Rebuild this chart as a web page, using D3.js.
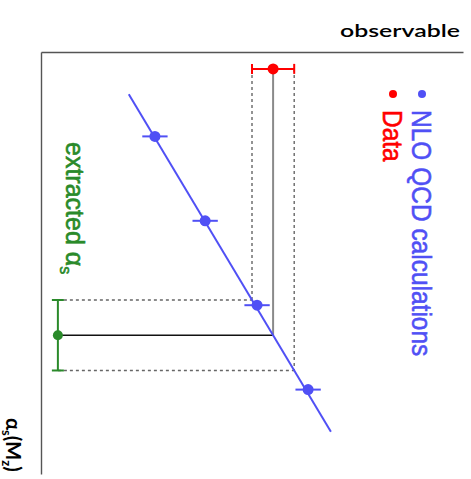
<!DOCTYPE html>
<html>
<head>
<meta charset="utf-8">
<script src="https://cdn.jsdelivr.net/npm/d3@7"></script>
<style>
  html, body { margin: 0; padding: 0; background: #fff; }
  svg { display: block; }
</style>
</head>
<body>
<svg id="chart" width="471" height="479"></svg>
<script>
// NLO QCD predictions of the observable for several alpha_s(M_Z) values
const nloAlpha = [0.112, 0.116, 0.120, 0.124];
const nloObs = [27.0, 38.9, 51.2, 63.3];
const nloErr = [3.0, 3.0, 3.0, 3.0];

// straight-line parametrisation through the predictions
const fitAlpha = [0.110, 0.126];
const fitObs = [20.8, 68.7];

// measured value of the observable
const dataObs = [55.0];
const dataErr = [5.0];
const dataAlphaPos = 0.1088;     // where the measurement is drawn along the alpha_s axis
const extractedObsPos = 4.0;     // where the extracted alpha_s is drawn along the observable axis

const alphaDomain = [0.108, 0.128];
const obsDomain = [0, 100];

const legendLabels = ["NLO QCD calculations", "Data"];
const legendColors = ["#5050f5", "#ff0000"];
const blue = "#5050f5", red = "#ff0000", green = "#2a8a2a";

const svg = d3.select("#chart");

// observable runs left→right, alpha_s runs top→bottom
const x = d3.scaleLinear().domain(obsDomain).range([41, 463]);
const y = d3.scaleLinear().domain(alphaDomain).range([52, 474]);

// axes without ticks
svg.append("g").attr("transform", "translate(0,52)")
  .call(d3.axisTop(x).tickValues([]).tickSizeOuter(0))
  .select(".domain").attr("stroke", "#555").attr("stroke-width", 1.4);
svg.append("g").attr("transform", "translate(41,0)")
  .call(d3.axisLeft(y).tickValues([]).tickSizeOuter(0))
  .select(".domain").attr("stroke", "#555").attr("stroke-width", 1.4);

// axis titles
svg.append("text")
  .attr("x", 340).attr("y", 37)
  .attr("font-family", "Lato, 'DejaVu Sans', sans-serif")
  .attr("font-weight", 600).attr("font-size", 18)
  .attr("textLength", 120).attr("lengthAdjust", "spacingAndGlyphs")
  .attr("fill", "#000").text("observable");

const xt = svg.append("text")
  .attr("transform", "translate(6,418) rotate(90)")
  .attr("font-family", "Lato, 'DejaVu Sans', sans-serif")
  .attr("font-weight", 700).attr("font-size", 20).attr("fill", "#000");
xt.append("tspan").text("α");
xt.append("tspan").attr("font-size", 13).attr("dy", 4).text("s");
xt.append("tspan").attr("dy", -4).text("(M");
xt.append("tspan").attr("font-size", 13).attr("dy", 4).text("z");
xt.append("tspan").attr("dy", -4).text(")");

// fit line mapping alpha_s to observable
const fitAlphaAt = o => fitAlpha[0] + (o - fitObs[0]) * (fitAlpha[1] - fitAlpha[0]) / (fitObs[1] - fitObs[0]);

// extracted alpha_s and its band
const dObs = dataObs[0], dErr = dataErr[0];
const aCentral = fitAlphaAt(dObs);
const aLow = fitAlphaAt(dObs - dErr);
const aHigh = fitAlphaAt(dObs + dErr);

// projection lines
const dash = "3,3";
const g = svg.append("g");
// vertical: from data down to the fit line
g.append("line")
  .attr("x1", x(dObs)).attr("x2", x(dObs))
  .attr("y1", y(dataAlphaPos)).attr("y2", y(aCentral))
  .attr("stroke", "#8a8a8a").attr("stroke-width", 2);
[[dObs - dErr, aLow], [dObs + dErr, aHigh]].forEach(([o, a]) => {
  g.append("line")
    .attr("x1", x(o)).attr("x2", x(o))
    .attr("y1", y(dataAlphaPos)).attr("y2", y(a))
    .attr("stroke", "#666").attr("stroke-width", 1.4).attr("stroke-dasharray", dash);
  g.append("line")
    .attr("x1", x(extractedObsPos)).attr("x2", x(o))
    .attr("y1", y(a)).attr("y2", y(a))
    .attr("stroke", "#666").attr("stroke-width", 1.4).attr("stroke-dasharray", dash);
});
// horizontal: from fit line across to the alpha_s axis
g.append("line")
  .attr("x1", x(extractedObsPos)).attr("x2", x(dObs))
  .attr("y1", y(aCentral)).attr("y2", y(aCentral))
  .attr("stroke", "#111").attr("stroke-width", 1.4);

// fit line
svg.append("line")
  .attr("x1", x(fitObs[0])).attr("y1", y(fitAlpha[0]))
  .attr("x2", x(fitObs[1])).attr("y2", y(fitAlpha[1]))
  .attr("stroke", blue).attr("stroke-width", 2);

// NLO points with error bars
const nlo = nloAlpha.map((a, i) => ({ a, o: nloObs[i], e: nloErr[i] }));
const pts = svg.append("g");
pts.selectAll("line.err").data(nlo).join("line")
  .attr("class", "err")
  .attr("x1", d => x(d.o - d.e)).attr("x2", d => x(d.o + d.e))
  .attr("y1", d => y(d.a)).attr("y2", d => y(d.a))
  .attr("stroke", blue).attr("stroke-width", 2);
pts.selectAll("circle").data(nlo).join("circle")
  .attr("cx", d => x(d.o)).attr("cy", d => y(d.a)).attr("r", 5.5)
  .attr("fill", blue);

// measurement with error bar
const dy = y(dataAlphaPos);
svg.append("line")
  .attr("x1", x(dObs - dErr)).attr("x2", x(dObs + dErr))
  .attr("y1", dy).attr("y2", dy)
  .attr("stroke", red).attr("stroke-width", 2);
[dObs - dErr, dObs + dErr].forEach(o => {
  svg.append("line")
    .attr("x1", x(o)).attr("x2", x(o))
    .attr("y1", dy - 5).attr("y2", dy + 5)
    .attr("stroke", red).attr("stroke-width", 2);
});
svg.append("circle").attr("cx", x(dObs)).attr("cy", dy).attr("r", 5.5).attr("fill", red);

// extracted alpha_s with error bar
const ex = x(extractedObsPos);
svg.append("line")
  .attr("x1", ex).attr("x2", ex)
  .attr("y1", y(aLow)).attr("y2", y(aHigh))
  .attr("stroke", green).attr("stroke-width", 2);
[aLow, aHigh].forEach(a => {
  svg.append("line")
    .attr("x1", ex - 6).attr("x2", ex + 6)
    .attr("y1", y(a)).attr("y2", y(a))
    .attr("stroke", green).attr("stroke-width", 2);
});
svg.append("circle").attr("cx", ex).attr("cy", y(aCentral)).attr("r", 5).attr("fill", green);

// rotated annotation
const et = svg.append("text")
  .attr("transform", "translate(66,142) rotate(90)")
  .attr("font-family", "'Liberation Sans', Arial, sans-serif")
  .attr("font-size", 25).attr("fill", green)
  .attr("stroke", green).attr("stroke-width", 0.6);
et.append("tspan").text("extracted α");
et.append("tspan").attr("font-size", 16).attr("dy", 6).text("s");

// legend (rotated)
const legX = [412, 383];
legendLabels.forEach((lab, i) => {
  svg.append("circle").attr("cx", legX[i] + 10).attr("cy", 94).attr("r", 4).attr("fill", legendColors[i]);
  svg.append("text")
    .attr("transform", `translate(${legX[i]},110) rotate(90) scale(0.98,1.1)`)
    .attr("font-family", "'Liberation Sans', Arial, sans-serif")
    .attr("font-size", 25).attr("fill", legendColors[i])
    .attr("stroke", legendColors[i]).attr("stroke-width", 0.5)
    .text(lab);
});
</script>
</body>
</html>
